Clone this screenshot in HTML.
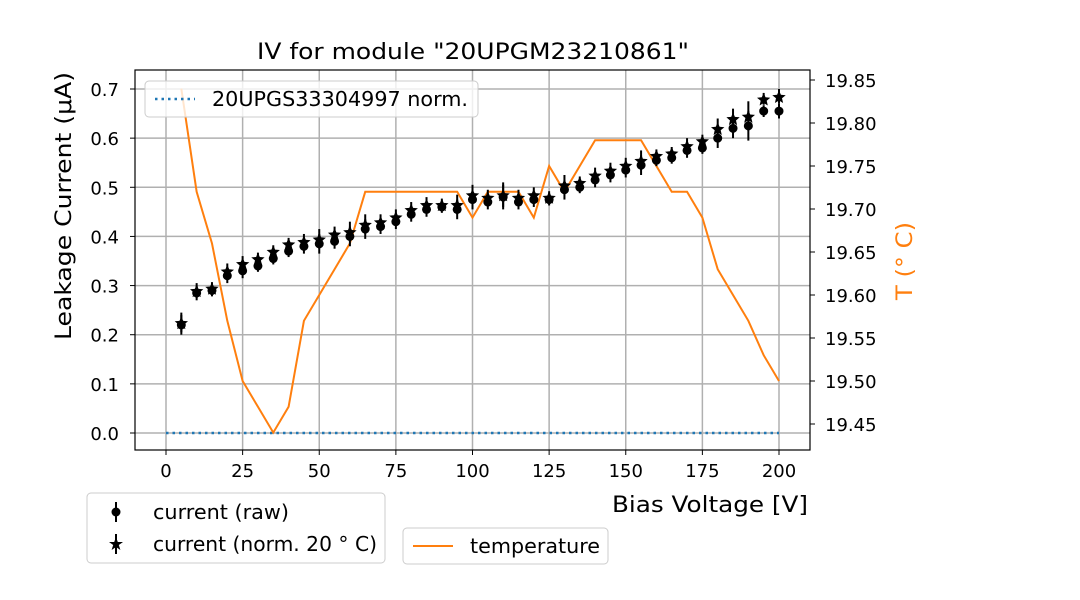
<!DOCTYPE html>
<html><head><meta charset="utf-8"><style>
body{margin:0;background:#fff;font-family:"Liberation Sans","DejaVu Sans",sans-serif}
svg{display:block}
text{font-family:"DejaVu Sans","Liberation Sans",sans-serif}
</style></head><body>
<svg id="c" width="1080" height="600">
<text x="473" y="59" font-size="22" text-anchor="middle" textLength="432" lengthAdjust="spacingAndGlyphs">IV for module "20UPGM23210861"</text>
<g id="grid"></g>
<g id="series"></g>
<rect x="135" y="70" width="675" height="380" fill="none" stroke="#000" stroke-width="1.2"/>
<g id="ticks" font-size="18"></g>
<text x="808" y="512" font-size="22" text-anchor="end" textLength="196" lengthAdjust="spacingAndGlyphs">Bias Voltage [V]</text>
<text transform="translate(71,206) rotate(-90)" font-size="22" text-anchor="middle" textLength="268" lengthAdjust="spacingAndGlyphs">Leakage Current (μA)</text>
<text transform="translate(912,261) rotate(-90)" font-size="22" fill="#ff7f0e" text-anchor="middle" textLength="78" lengthAdjust="spacingAndGlyphs">T (° C)</text>
<g>
<rect x="145" y="81" width="333" height="36" rx="4" fill="#fff" fill-opacity="0.8" stroke="#ccc"/>
<line x1="155" y1="99" x2="195" y2="99" stroke="#1f77b4" stroke-width="2.5" stroke-dasharray="2.5,4"/>
<text x="212" y="106" font-size="20" textLength="256" lengthAdjust="spacingAndGlyphs">20UPGS33304997 norm.</text>
</g>
<g>
<rect x="87" y="493" width="298" height="70" rx="4" fill="#fff" stroke="#ccc"/>
<line x1="116" y1="502" x2="116" y2="522" stroke="#000" stroke-width="2"/><circle cx="116" cy="512" r="4.5"/>
<text x="153" y="519" font-size="20" textLength="136" lengthAdjust="spacingAndGlyphs">current (raw)</text>
<line x1="116" y1="534" x2="116" y2="554" stroke="#000" stroke-width="2"/>
<polygon points="116,537 117.8,542 123,542 118.8,545 120.4,550 116,547 111.6,550 113.2,545 109,542 114.2,542"/>
<text x="153" y="551" font-size="20" textLength="224" lengthAdjust="spacingAndGlyphs">current (norm. 20 ° C)</text>
</g>
<g>
<rect x="403" y="528" width="205" height="36" rx="4" fill="#fff" stroke="#ccc"/>
<line x1="413" y1="546" x2="453" y2="546" stroke="#ff7f0e" stroke-width="2"/>
<text x="470" y="553" font-size="20" textLength="130" lengthAdjust="spacingAndGlyphs">temperature</text>
</g>
</svg>
<script>
const voltages=[5,10,15,20,25,30,35,40,45,50,55,60,65,70,75,80,85,90,95,100,105,110,115,120,125,130,135,140,145,150,155,160,165,170,175,180,185,190,195,200];
const currentRaw=[0.22,0.285,0.29,0.32,0.33,0.34,0.355,0.37,0.38,0.385,0.39,0.40,0.415,0.42,0.43,0.445,0.455,0.46,0.455,0.475,0.47,0.48,0.47,0.475,0.475,0.495,0.50,0.515,0.525,0.535,0.545,0.555,0.56,0.575,0.58,0.60,0.62,0.625,0.655,0.655];
const currentNorm=[0.225,0.29,0.295,0.33,0.345,0.355,0.37,0.385,0.39,0.395,0.405,0.41,0.425,0.43,0.44,0.455,0.465,0.465,0.465,0.485,0.48,0.485,0.48,0.485,0.48,0.505,0.51,0.525,0.535,0.545,0.555,0.565,0.57,0.585,0.595,0.62,0.64,0.645,0.68,0.685];
const currentErr=[0.02,0.015,0.012,0.015,0.015,0.012,0.012,0.012,0.015,0.02,0.015,0.02,0.02,0.015,0.015,0.015,0.015,0.012,0.02,0.02,0.015,0.025,0.015,0.015,0.012,0.02,0.012,0.015,0.015,0.015,0.02,0.012,0.012,0.015,0.012,0.02,0.02,0.03,0.012,0.015];
const temperature=[19.84,19.72,19.66,19.57,19.50,19.47,19.44,19.47,19.57,19.60,19.63,19.66,19.72,19.72,19.72,19.72,19.72,19.72,19.72,19.69,19.72,19.72,19.72,19.69,19.75,19.72,19.75,19.78,19.78,19.78,19.78,19.75,19.72,19.72,19.69,19.63,19.60,19.57,19.53,19.50];
const refVoltages=[0,200];
const refCurrent=[0,0];
const xTicks=[0,25,50,75,100,125,150,175,200];
const yTicks=[0.0,0.1,0.2,0.3,0.4,0.5,0.6,0.7];
const y2Ticks=[19.45,19.50,19.55,19.60,19.65,19.70,19.75,19.80,19.85];
const NS="http://www.w3.org/2000/svg";
const X=v=>166+(v)*(779-166)/200;
const Y=v=>433-v*(433-89)/0.7;
const Y2=t=>424-(t-19.45)*(424-80)/0.4;
function mk(tag,attrs,parent){const e=document.createElementNS(NS,tag);for(const k in attrs)e.setAttribute(k,attrs[k]);document.getElementById(parent).appendChild(e);return e;}
xTicks.forEach(t=>{
 const g=mk('line',{x1:X(t),x2:X(t),y1:70,y2:450,stroke:'#b0b0b0','stroke-width':1.5},'grid');
 
 
 mk('line',{x1:X(t),x2:X(t),y1:450,y2:455,stroke:'#000'},'ticks');
 const l=mk('text',{x:X(t),y:477,'text-anchor':'middle'},'ticks');l.textContent=t;
 
 
});
yTicks.forEach(t=>{
 const g=mk('line',{x1:135,x2:810,y1:Y(t),y2:Y(t),stroke:'#b0b0b0','stroke-width':1.5},'grid');
 
 
 mk('line',{x1:130,x2:135,y1:Y(t),y2:Y(t),stroke:'#000'},'ticks');
 const l=mk('text',{x:119,y:Y(t)+7,'text-anchor':'end'},'ticks');l.textContent=t.toFixed(1);
 
 
});
y2Ticks.forEach(t=>{
 mk('line',{x1:810,x2:815,y1:Y2(t),y2:Y2(t),stroke:'#000'},'ticks');
 const l=mk('text',{x:825,y:Y2(t)+7},'ticks');l.textContent=t.toFixed(2);
 
 
});
const ref=mk('polyline',{points:refVoltages.map((v,i)=>X(v)+','+Y(refCurrent[i])).join(' '),fill:'none',stroke:'#1f77b4','stroke-width':2.5,'stroke-dasharray':'2.5,4'},'series');


const tl=mk('polyline',{points:voltages.map((v,i)=>X(v)+','+Y2(temperature[i])).join(' '),fill:'none',stroke:'#ff7f0e','stroke-width':2},'series');


function star(cx,cy,r){let p=[];for(let k=0;k<10;k++){const a=-Math.PI/2+k*Math.PI/5;const rr=k%2?r*0.45:r;p.push((cx+rr*Math.cos(a)).toFixed(1)+','+(cy+rr*Math.sin(a)).toFixed(1));}return p.join(' ');}
voltages.forEach((v,i)=>{
 const x=X(v);
 const e1=mk('line',{x1:x,x2:x,y1:Y(currentRaw[i]-currentErr[i]),y2:Y(currentRaw[i]+currentErr[i]),stroke:'#000','stroke-width':2},'series');
 
 
 const c=mk('circle',{cx:x,cy:Y(currentRaw[i]),r:4.5,fill:'#000'},'series');
 
 
 const e2=mk('line',{x1:x,x2:x,y1:Y(currentNorm[i]-currentErr[i]),y2:Y(currentNorm[i]+currentErr[i]),stroke:'#000','stroke-width':2},'series');
 
 
 const s=mk('polygon',{points:star(x,Y(currentNorm[i])+1,7),fill:'#000'},'series');
 
 
});
</script>
</body></html>
